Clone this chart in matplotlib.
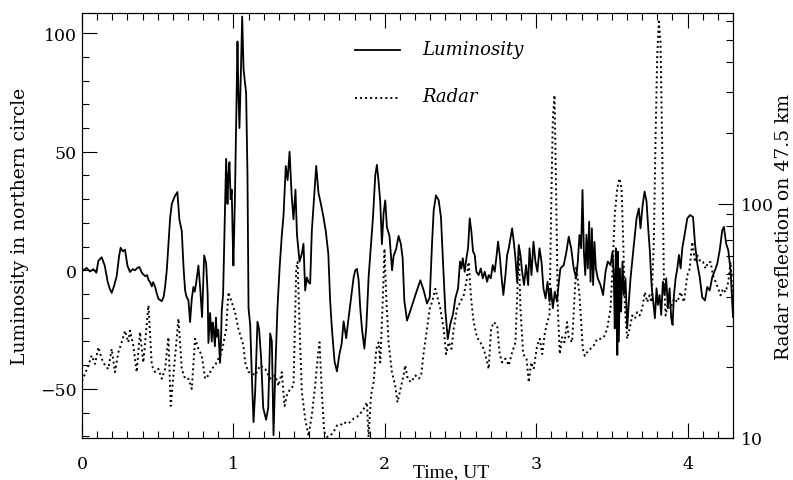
import numpy as np
import matplotlib
matplotlib.use("Agg")
import matplotlib.pyplot as plt
from matplotlib.ticker import MultipleLocator, FixedLocator, NullFormatter, FuncFormatter

# ── Data ────────────────────────────────────────────────
# luminosity (left axis), time in UT hours
lum_t = [0.0, 0.009, 0.03, 0.053, 0.075, 0.095, 0.108, 0.13, 0.15, 0.17, 0.185, 0.196, 0.21, 0.229,
         0.245, 0.255, 0.27, 0.284, 0.30, 0.317, 0.335, 0.35, 0.365, 0.379, 0.395, 0.417, 0.43, 0.439,
         0.45, 0.461, 0.47, 0.483, 0.495, 0.505, 0.515, 0.527, 0.54, 0.549, 0.56, 0.571, 0.582, 0.593,
         0.605, 0.615, 0.63, 0.643, 0.659, 0.67, 0.681, 0.69, 0.703, 0.714, 0.725, 0.736, 0.745, 0.754,
         0.769, 0.78, 0.793, 0.807, 0.82, 0.83, 0.835, 0.846, 0.857, 0.863, 0.868, 0.878, 0.885, 0.89,
         0.90, 0.912, 0.918, 0.923, 0.932, 0.939, 0.946, 0.952, 0.958, 0.961, 0.967, 0.974, 0.982, 0.989,
         0.995, 1.0, 1.01, 1.018, 1.027, 1.033, 1.04, 1.049, 1.058, 1.067, 1.075, 1.084, 1.093, 1.10,
         1.111, 1.122, 1.133, 1.144, 1.159, 1.17, 1.183, 1.197, 1.216, 1.23, 1.243, 1.254, 1.265, 1.278,
         1.291, 1.305, 1.32, 1.331, 1.346, 1.358, 1.371, 1.385, 1.397, 1.41, 1.42, 1.437, 1.452, 1.463,
         1.474, 1.485, 1.496, 1.507, 1.518, 1.53, 1.547, 1.562, 1.578, 1.595, 1.61, 1.627, 1.639, 1.65,
         1.668, 1.684, 1.70, 1.715, 1.728, 1.745, 1.761, 1.778, 1.794, 1.805, 1.816, 1.827, 1.838, 1.849,
         1.865, 1.878, 1.893, 1.909, 1.922, 1.937, 1.948, 1.959, 1.97, 1.981, 1.992, 2.003, 2.014, 2.031,
         2.048, 2.058, 2.075, 2.091, 2.106, 2.118, 2.129, 2.147, 2.169, 2.19, 2.212, 2.235, 2.257, 2.279,
         2.297, 2.312, 2.323, 2.338, 2.356, 2.371, 2.385, 2.40, 2.416, 2.433, 2.451,
         2.466, 2.484, 2.497, 2.506, 2.515, 2.528, 2.539, 2.55, 2.561, 2.572, 2.583, 2.594, 2.605, 2.62,
         2.634, 2.647, 2.66, 2.676, 2.686, 2.70, 2.713, 2.726, 2.739, 2.748, 2.759, 2.77, 2.783, 2.797,
         2.808, 2.819, 2.83, 2.841, 2.852, 2.863, 2.874, 2.885, 2.896, 2.907, 2.92, 2.933, 2.947, 2.956,
         2.969, 2.982, 2.995, 3.008, 3.022, 3.035, 3.048, 3.062, 3.075, 3.088, 3.097, 3.11, 3.123, 3.137,
         3.15, 3.16, 3.182, 3.20, 3.215, 3.231, 3.248, 3.264, 3.275, 3.286, 3.297, 3.306, 3.315, 3.324,
         3.332, 3.341, 3.35, 3.359, 3.368, 3.376, 3.385, 3.394, 3.407, 3.425, 3.442, 3.458, 3.473, 3.491,
         3.504, 3.513, 3.519, 3.526, 3.532, 3.536, 3.539, 3.546, 3.553, 3.561, 3.57, 3.579, 3.59, 3.601,
         3.612, 3.623, 3.634, 3.645, 3.663, 3.678, 3.689, 3.703, 3.716, 3.729, 3.74, 3.751, 3.762, 3.773,
         3.784, 3.795, 3.804, 3.815, 3.826, 3.837, 3.848, 3.859, 3.87, 3.881, 3.892, 3.901, 3.91, 3.921,
         3.932, 3.943, 3.954, 3.965, 3.98, 3.998, 4.016, 4.036, 4.049, 4.064, 4.08, 4.097, 4.115, 4.13,
         4.146, 4.163, 4.181, 4.196, 4.212, 4.229, 4.24, 4.255, 4.269, 4.284, 4.30]
lum_v = [0, 0, 1, -0.5, 0.5, -1, 4, 5.5, 2, -5, -8, -9.5, -7, -2.5,
         6, 9.5, 8, 8.7, 2, -0.7, 0.5, 0, 1, 1.4, -1, -2.5, -2, -4,
         -5, -6.8, -5, -7, -10, -12, -12.5, -13, -11, -6.8, 0, 11, 22, 28,
         30, 31.5, 33, 21.5, 16.6, 2, -8.5, -11, -12.7, -21.8, -12, -7, -9, -5.3,
         2, -7, -19.7, 6.3, 3, -10, -30.6, -18, -30, -22, -24, -32, -20, -28,
         -25, -39, -30, -17, -10, 11, 30, 47, 35, 28, 40, 45.6, 30, 34,
         15, 2, 30, 60, 96.5, 75, 60, 82, 107, 85, 80, 75, 40, -16,
         -23, -45, -64, -51, -21.7, -25, -37, -58, -63, -58, -26.6, -30, -69.5, -40,
         -16, 0.8, 15, 23, 44, 38, 50, 31.5, 21.5, 34, 15, 3.7, 7, 11.2,
         -8.5, -3, -5, -5.6, 16.6, 28, 44, 32.6, 28, 22.4, 16.6, 7, -12.8, -24,
         -38.4, -42.6, -35.5, -31, -21.5, -28.6, -20, -11.4, -3, 0, 0.6, -4, -16, -24.5,
         -33, -24, -3, 11, 22.4, 40, 44.5, 37.5, 28.8, 11, 24, 29.5, 18.2, 14.5,
         0, 6, 9, 14.5, 11.2, 5, -12.8, -21.2, -17, -12.8, -8.5, -4.2, -8.5, -14,
         -11.4, 11.2, 25.3, 31.6, 29.5, 22.4, 2.8, -17, -29, -22.6, -18.3,
         -11.8, -7.6, 3.7, 0.8, 5.1, -0.6, 5.1, 9.3, 21.9, 16.3, 7.9, 6.5, -0.6, -2,
         0.8, -3.4, -0.6, -4.8, -2, -3.4, 2.2, -0.6, 6.5, 12.1, 6.5, -2, -10.4, -2,
         6.5, 9.3, 13.5, 17.7, 12.1, 5.1, -4.8, 10.7, 6.5, -0.6, -6.2, 2.2, -6.2, 9.3,
         -2, 12.1, 3.7, -0.6, 9.3, 3.7, -7.6, -11.8, -4.8, -13.2, -7.6, -16, -9, -13.2,
         -4.8, 0.8, 2.2, 7.9, 14.2, 9.3, 0.8, -3.4, 3.7, 14.9, 9.3, 33.9, 7.9, -2,
         15, 0.8, 20.5, -4.8, 17.7, -6.2, 12, 0.8, -3.4, -6.2, -10.4, -0.6, 3.7, 2.2,
         7.9, -3.4, -24.5, 9.3, -13.2, -35.7, 7.9, -30, 0.8, -17.4, 3.7, -10.4, -3.4, -24.5,
         -13.2, -3.4, 3.7, 10.7, 21.9, 26.1, 17.7, 27.5, 33.2, 29, 17.7, 7.9, -6.2, -13.2,
         -20.2, -7.6, -14.6, -10.4, -18.8, -4.8, -10.4, -3.4, -16, -7.6, -20.2, -23, -10.4, -3.4,
         0.8, 6.5, 0.8, 9.3, 14.9, 21.9, 23.3, 22.5, 11.2, 2.8, -2.8, -11.4, -12.7, -7,
         -8.5, -2.8, 0, 2.8, 8.4, 16.9, 18.3, 11.2, 8.4, 0, -19.7]

# radar reflection (right axis, log scale)
radar_t = [0.0, 0.02, 0.042, 0.064, 0.086, 0.108, 0.13, 0.152, 0.174, 0.196, 0.218, 0.24, 0.262,
           0.284, 0.306, 0.317, 0.339, 0.361, 0.383, 0.405, 0.439, 0.461, 0.483, 0.505, 0.527, 0.549,
           0.571, 0.586, 0.604, 0.626, 0.637, 0.659, 0.681, 0.703, 0.725, 0.747, 0.769, 0.791, 0.813,
           0.835, 0.857, 0.879, 0.901, 0.923, 0.952, 0.967, 0.989, 1.011, 1.033, 1.066, 1.078, 1.099,
           1.111, 1.144, 1.177, 1.21, 1.243, 1.276, 1.298, 1.32, 1.338, 1.353, 1.375, 1.397, 1.415,
           1.424, 1.437, 1.452, 1.474, 1.496, 1.518, 1.54, 1.556, 1.569, 1.584, 1.60, 1.617, 1.639,
           1.661, 1.684, 1.705, 1.728, 1.75, 1.772, 1.794, 1.816, 1.838, 1.86, 1.882, 1.893, 1.909,
           1.926, 1.944, 1.959, 1.97, 1.987, 1.998, 2.009, 2.025, 2.047, 2.069, 2.084, 2.102, 2.124,
           2.135, 2.151, 2.173, 2.202, 2.224, 2.24, 2.257, 2.279, 2.297, 2.312, 2.334, 2.35, 2.367,
           2.389, 2.405, 2.422, 2.44, 2.455, 2.477, 2.499, 2.521, 2.539, 2.554, 2.57, 2.587, 2.609,
           2.631, 2.653, 2.671, 2.686, 2.702, 2.72, 2.742, 2.759, 2.775, 2.797, 2.819, 2.841, 2.863,
           2.874, 2.885, 2.896, 2.914, 2.936, 2.951, 2.967, 2.984, 3.006, 3.024, 3.04, 3.057, 3.073,
           3.088, 3.099, 3.11, 3.121, 3.132, 3.143, 3.156, 3.171, 3.187, 3.204, 3.215, 3.237, 3.255,
           3.265, 3.286, 3.299, 3.308, 3.321, 3.336, 3.358, 3.38, 3.403, 3.425, 3.447, 3.469, 3.491,
           3.506, 3.519, 3.535, 3.55, 3.564, 3.575, 3.586, 3.601, 3.617, 3.634, 3.652, 3.667, 3.683,
           3.70, 3.718, 3.733, 3.749, 3.762, 3.777, 3.788, 3.799, 3.81, 3.821, 3.832, 3.843, 3.855,
           3.872, 3.888, 3.91, 3.932, 3.954, 3.976, 3.998, 4.014, 4.031, 4.049, 4.064, 4.086, 4.102,
           4.119, 4.137, 4.152, 4.168, 4.185, 4.203, 4.218, 4.234, 4.251, 4.269, 4.284, 4.299]
radar_v = [17.5, 18.8, 20.4, 22.5, 20.7, 24.4, 21.8, 20.4, 19.7, 24.0, 19.1, 23.2, 25.6,
           28.7, 25.6, 28.7, 24.8, 19.1, 28.3, 21.0, 36.8, 20.4, 19.1, 19.7, 17.9, 19.7,
           26.9, 13.7, 18.5, 26.5, 32.3, 19.7, 17.9, 17.9, 16.2, 26.5, 24.0, 22.5, 17.9,
           18.5, 19.7, 20.4, 21.8, 23.2, 29.2, 41.9, 38.0, 34.4, 29.2, 24.8, 21.0, 19.1,
           19.1, 18.5, 20.4, 19.7, 17.9, 18.5, 16.7, 19.1, 13.7, 15.2, 16.2, 16.7, 52.8,
           56.3, 30.2, 15.7, 12.1, 10.2, 12.5, 16.7, 21.8, 25.6, 15.7, 10.6, 10.1, 10.2,
           10.6, 11.3, 11.3, 11.7, 11.5, 11.7, 12.1, 12.3, 12.7, 13.3, 14.2, 10.1, 15.2,
           17.3, 24.0, 25.6, 21.0, 39.3, 64.2, 40.6, 25.6, 19.1, 16.7, 14.2, 16.0, 18.5,
           20.4, 17.9, 17.3, 18.5, 17.9, 18.5, 23.2, 29.2, 35.6, 38.0, 43.3, 39.3, 35.6,
           29.2, 22.8, 25.6, 24.0, 29.2, 35.6, 38.0, 40.6, 46.3, 56.3, 39.3, 31.2, 26.9,
           25.6, 24.0, 21.8, 19.7, 29.2, 31.2, 30.2, 22.8, 21.0, 21.8, 20.4, 23.2, 25.6,
           39.3, 64.2, 35.6, 22.8, 21.8, 17.3, 21.0, 19.7, 24.8, 26.5, 22.8, 28.0, 31.2,
           33.3, 95.2, 231, 290, 108.5, 35.6, 22.8, 26.9, 25.6, 31.2, 26.9, 25.6, 42.0,
           54.0, 40.6, 30.0, 24.0, 22.4, 23.2, 24.0, 24.8, 26.5, 26.5, 26.9, 29.2, 35.6,
           56.3, 89.1, 116, 128, 116, 68.6, 35.6, 26.5, 29.2, 33.3, 32.3, 34.4, 33.3,
           35.6, 41.9, 38.0, 40.6, 38.0, 68.6, 183, 417, 597, 491, 183, 49.4, 33.3,
           38.0, 35.6, 39.3, 38.0, 41.9, 38.0, 49.4, 52.8, 68.6, 56.3, 60.1, 56.3, 56.3,
           52.8, 56.3, 56.3, 49.4, 46.3, 43.3, 40.6, 43.3, 41.9, 46.3, 56.3, 38.0]

x_ticks = [0, 1, 2, 3, 4]
lum_ticks = [-50, 0, 50, 100]
radar_ticks = [10, 100]
radar_minor = [20, 30, 40, 50, 60, 70, 80, 90, 200, 300, 400, 500, 600]

DOTS = (0, (1, 1.6))

# ── Figure ──────────────────────────────────────────────
plt.rcParams["font.family"] = ["DejaVu Serif"]

fig = plt.figure(figsize=(7.93, 4.81), dpi=100)
ax = fig.add_axes([82 / 793, 1 - 439 / 481, 651 / 793, 425 / 481])

ax.plot(lum_t, lum_v, color="black", lw=1.3)
ax.set_xlim(0, 4.3)
ax.set_ylim(-70.7, 108.5)
ax.set_xticks(x_ticks)
ax.set_yticks(lum_ticks)
ax.xaxis.set_minor_locator(MultipleLocator(0.1))
ax.yaxis.set_minor_locator(MultipleLocator(10))
ax.tick_params(which="both", direction="in", top=True, right=False, labelsize=12.5)
ax.tick_params(axis="x", pad=12)
ax.tick_params(axis="y", pad=4)
ax.tick_params(which="major", length=11, width=0.8)
ax.tick_params(which="minor", length=5, width=0.8)
for s in ax.spines.values():
    s.set_linewidth(0.8)

ax.set_xlabel("Time, UT", fontsize=14, family="Liberation Serif")
ax.xaxis.set_label_coords(0.567, -0.08)
ax.xaxis.label.set_va("center")
ax.set_ylabel("Luminosity in northern circle", fontsize=13.5)
ax.yaxis.set_label_coords(-0.095, 0.5)
ax.yaxis.label.set_va("center")

ax2 = ax.twinx()
ax2.plot(radar_t, radar_v, color="black", lw=1.4, linestyle=DOTS)
ax2.set_yscale("log")
ax2.set_ylim(10, 650)
ax2.yaxis.set_major_locator(FixedLocator(radar_ticks))
ax2.yaxis.set_major_formatter(FuncFormatter(lambda v, p: f"{v:g}"))
ax2.yaxis.set_minor_locator(FixedLocator(radar_minor))
ax2.yaxis.set_minor_formatter(NullFormatter())
ax2.tick_params(which="both", direction="in", labelsize=12.5, pad=6)
ax2.tick_params(which="major", length=11, width=0.8)
ax2.tick_params(which="minor", length=5, width=0.8)
ax2.set_ylabel("Radar reflection on 47.5 km", fontsize=13.5)
ax2.yaxis.set_label_coords(1.079, 0.5)
ax2.yaxis.label.set_va("center")

# legend drawn as in the original (IDL style)
ax.plot([1.805, 2.102], [92.8, 92.8], color="black", lw=1.3)
ax.text(2.248, 93.5, "Luminosity", fontsize=13, style="italic", va="center")
ax.plot([1.805, 2.102], [72.6, 72.6], color="black", lw=1.4, linestyle=DOTS)
ax.text(2.248, 73.6, "Radar", fontsize=13, style="italic", va="center")

plt.savefig("out.png", dpi=100)
plt.close()
